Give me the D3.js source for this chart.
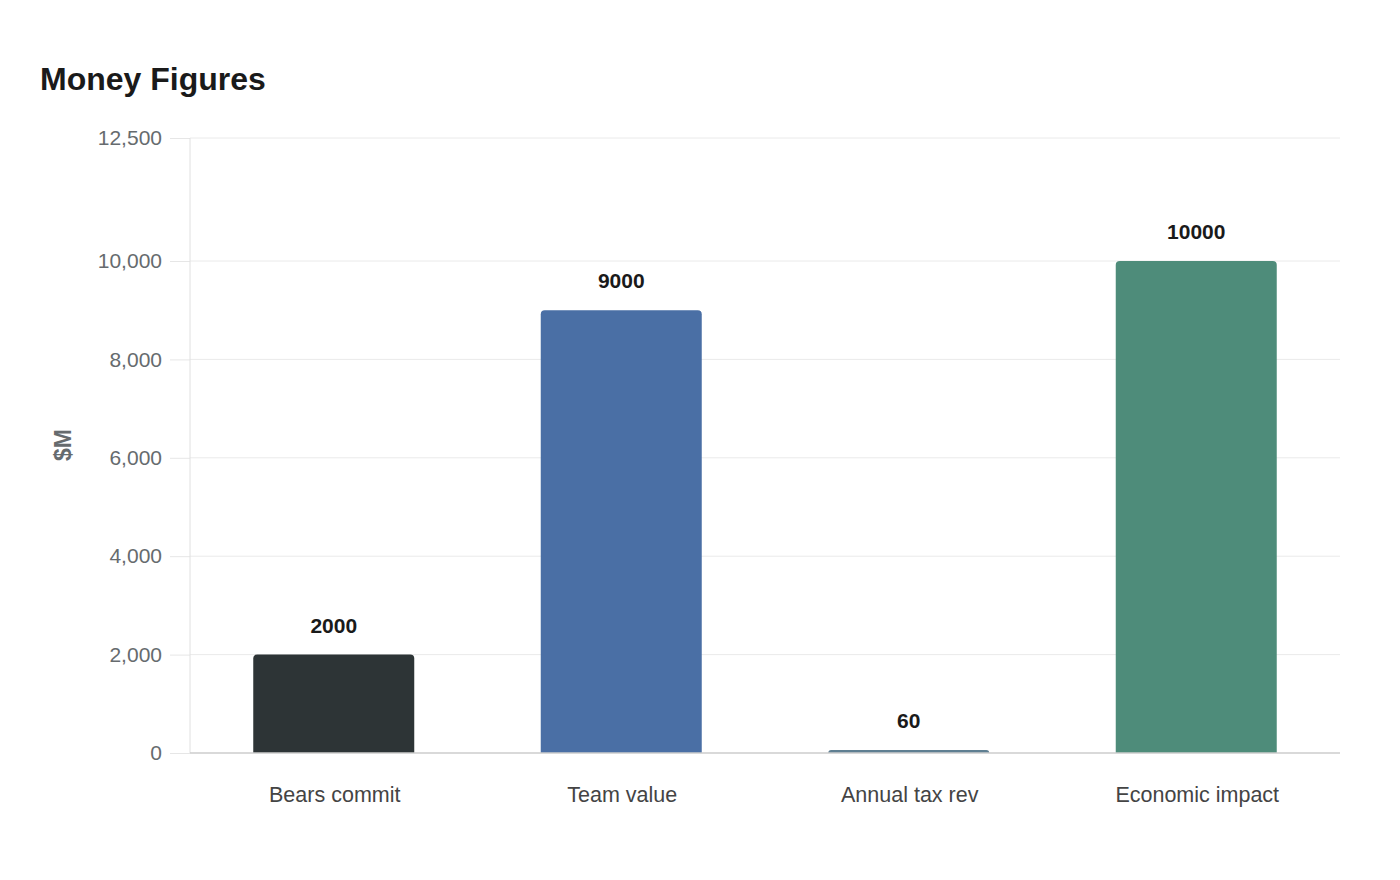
<!DOCTYPE html>
<html>
<head>
<meta charset="utf-8">
<script src="https://cdn.jsdelivr.net/npm/d3@7"></script>
<style>
  body { margin: 0; background: #fff; font-family: "Liberation Sans", Arial, sans-serif; }
</style>
</head>
<body>
<script>
var categories = ['Bears commit', 'Team value', 'Annual tax rev', 'Economic impact'];
var values = [2000, 9000, 60, 10000];
var colors = ['#2d3436', '#4a6fa5', '#5f7f92', '#4e8c7a'];
var yTicks = [0, 2000, 4000, 6000, 8000, 10000, 12500];

var svg = d3.select('body').append('svg')
    .attr('width', 1400)
    .attr('height', 880);

var plotLeft = 190, plotRight = 1340, plotTop = 138, plotBottom = 753;

var x = d3.scaleBand()
    .domain(categories)
    .range([plotLeft, plotRight])
    .paddingInner(0.44)
    .paddingOuter(0.22);

var y = d3.scaleLinear()
    .domain([0, 12500])
    .range([plotBottom, plotTop]);

// title
svg.append('text')
    .attr('x', 40)
    .attr('y', 90)
    .attr('font-size', 32)
    .attr('font-weight', 'bold')
    .attr('fill', '#1a1a1a')
    .text('Money Figures');

// gridlines + y labels
var yAxis = svg.append('g')
    .attr('transform', 'translate(' + plotLeft + ',0)')
    .call(d3.axisLeft(y).tickValues(yTicks).tickFormat(d3.format(',')).tickSize(20).tickPadding(8));
yAxis.select('.domain').remove();
yAxis.selectAll('.tick line').attr('stroke', '#e6e6e6');
yAxis.selectAll('.tick text')
    .attr('font-size', 21)
    .attr('fill', '#666b6e')
    .attr('font-family', '"Liberation Sans", Arial, sans-serif');

svg.append('g').selectAll('line')
    .data(yTicks.filter(function(d){ return d > 0; }))
    .enter().append('line')
    .attr('x1', plotLeft)
    .attr('x2', plotRight)
    .attr('y1', function(d){ return y(d); })
    .attr('y2', function(d){ return y(d); })
    .attr('stroke', '#eaeaea');

// vertical axis line
svg.append('line')
    .attr('x1', plotLeft).attr('x2', plotLeft)
    .attr('y1', plotTop).attr('y2', plotBottom)
    .attr('stroke', '#e0e0e0');

// y axis title
svg.append('text')
    .attr('transform', 'translate(71,445) rotate(-90)')
    .attr('text-anchor', 'middle')
    .attr('font-size', 23)
    .attr('font-weight', 'bold')
    .attr('fill', '#666b6e')
    .text('$M');

// bars with rounded top
var r = 4;
svg.append('g').selectAll('path')
    .data(values)
    .enter().append('path')
    .attr('fill', function(d, i){ return colors[i]; })
    .attr('d', function(d, i){
        var x0 = x(categories[i]), w = x.bandwidth();
        var y0 = y(d), h = plotBottom - y0;
        var rr = Math.min(r, h);
        return 'M' + x0 + ',' + plotBottom +
            'V' + (y0 + rr) +
            'Q' + x0 + ',' + y0 + ' ' + (x0 + rr) + ',' + y0 +
            'H' + (x0 + w - rr) +
            'Q' + (x0 + w) + ',' + y0 + ' ' + (x0 + w) + ',' + (y0 + rr) +
            'V' + plotBottom + 'Z';
    });

// baseline
svg.append('line')
    .attr('x1', plotLeft).attr('x2', plotRight)
    .attr('y1', plotBottom).attr('y2', plotBottom)
    .attr('stroke', '#cccccc')
    .attr('stroke-width', 1.5);

// value labels
svg.append('g').selectAll('text')
    .data(values)
    .enter().append('text')
    .attr('x', function(d, i){ return x(categories[i]) + x.bandwidth() / 2; })
    .attr('y', function(d){ return y(d) - 22; })
    .attr('text-anchor', 'middle')
    .attr('font-size', 21)
    .attr('font-weight', 'bold')
    .attr('fill', '#1a1a1a')
    .text(function(d){ return d; });

// x labels
svg.append('g').selectAll('text')
    .data(categories)
    .enter().append('text')
    .attr('x', function(d){ return x(d) + x.bandwidth() / 2 + 1; })
    .attr('y', 802)
    .attr('text-anchor', 'middle')
    .attr('font-size', 21.5)
    .attr('fill', '#444')
    .text(function(d){ return d; });
</script>
</body>
</html>
